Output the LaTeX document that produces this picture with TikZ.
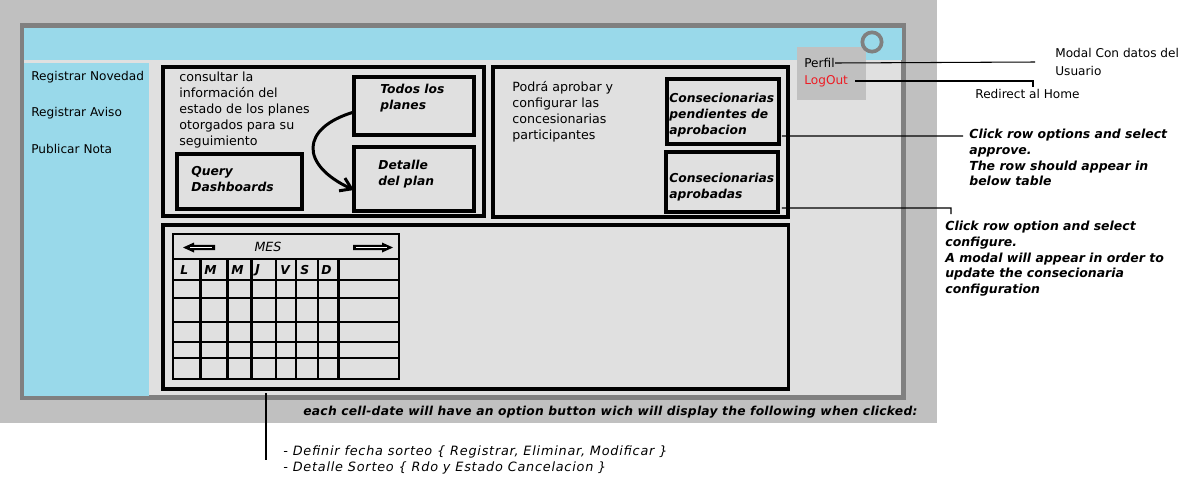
\documentclass[tikz,border=0pt]{standalone}
\usepackage{fontspec}
\setmainfont{DejaVu Sans}
\usetikzlibrary{arrows.meta,calc}
\definecolor{shellgray}{RGB}{192,192,192}
\definecolor{framegray}{RGB}{128,128,128}
\definecolor{panelgray}{RGB}{224,224,224}
\definecolor{barcyan}{RGB}{153,217,234}
\definecolor{logoutred}{RGB}{237,28,36}
\tikzset{
  menutext/.style={anchor=west,inner sep=0,font=\fontsize{6.9}{9}\selectfont},
  bodytext/.style={anchor=north west,inner sep=0,align=left,font=\fontsize{7.2}{9.07}\selectfont},
  boxtext/.style={anchor=north west,inner sep=0,align=left,font=\fontsize{7}{9.07}\selectfont\bfseries\itshape},
  notetext/.style={anchor=north west,inner sep=0,align=left,font=\fontsize{7.1}{8.9}\selectfont\bfseries\itshape},
  panel/.style={draw=black,line width=1.8pt,anchor=north west,inner sep=0,outer sep=0},
  wirebox/.style={draw=black,line width=2.1pt,anchor=north west,inner sep=0,outer sep=0},
  callout/.style={black,line width=0.6pt},
  gridline/.style={black,line width=1.6pt}
}
\begin{document}
\begin{tikzpicture}[x=0.02cm,y=-0.02cm]
\useasboundingbox (0,0) rectangle (1198,498);
% window shell
\fill[shellgray] (0,0) rectangle (937,423);
\filldraw[fill=panelgray,draw=framegray,line width=2.5pt] (22,25.5) rectangle (903.5,397.5);
\fill[barcyan] (24,28) rectangle (901.5,60);
\fill[barcyan] (24,63) rectangle (149,395.5);
% user menu
\fill[shellgray] (797,47) rectangle (866,100);
\draw[framegray,line width=2.1pt] (872,42) circle [radius=5.5pt];
\node[menutext] (novedad) at (31,77) {Registrar Novedad};
\node[menutext] (aviso) at (31,113) {Registrar Aviso};
\node[menutext] (nota) at (31,149) {Publicar Nota};
\node[menutext] (perfil) at (804,63) {Perfil};
\node[menutext,text=logoutred] (logout) at (804,81) {LogOut};
\node[bodytext,font=\fontsize{6.9}{10.2}\selectfont] (modal) at (1055,48) {Modal Con datos del\\Usuario};
\node[menutext] (home) at (975,94) {Redirect al Home};
\coordinate (perfilend) at (1035,62);
\coordinate (logoutend) at (1033,81);
\draw[callout] (perfil.east) -- (perfilend);
\draw[callout] ([xshift=4pt]logout.east) -- (logoutend) -- ++(0,6);
% planes
\node[panel,minimum width=6.42cm,minimum height=2.98cm] (planes) at (163,67) {};
\node[bodytext] (planesinfo) at (179,71.5) {consultar la\\información del\\estado de los planes\\otorgados para su\\seguimiento};
\node[wirebox,minimum width=2.4cm,minimum height=1.16cm] (todos) at (354,77) {};
\node[wirebox,minimum width=2.4cm,minimum height=1.28cm] (detalle) at (354,147) {};
\node[wirebox,minimum width=2.5cm,minimum height=1.1cm] (query) at (177,154) {};
\node[boxtext] (todostext) at (380,84) {Todos los\\planes};
\node[boxtext] (detalletext) at (378,160) {Detalle\\del plan};
\node[boxtext] (querytext) at (191,166) {Query\\Dashboards};
\draw[line width=1.7pt,-{Straight Barb[length=6pt,width=8pt]}] ($(todos.west)+(0,6)$) .. controls (300,128) and (300,165) .. ($(detalle.west)+(0,11)$);
% concesionarias
\node[panel,minimum width=5.9cm,minimum height=3cm] (conces) at (493,67) {};
\node[bodytext] (concesinfo) at (512,81) {Podrá aprobar y\\configurar las\\concesionarias\\participantes};
\node[wirebox,minimum width=2.24cm,minimum height=1.3cm] (pend) at (667,79) {};
\node[wirebox,minimum width=2.24cm,minimum height=1.2cm] (aprob) at (666,152) {};
\node[boxtext] (pendtext) at (669,93) {Consecionarias\\pendientes de\\aprobacion};
\node[boxtext] (aprobtext) at (669,173) {Consecionarias\\aprobadas};
\node[notetext] (approvenote) at (969,129) {Click row options and select\\approve.\\The row should appear in\\below table};
\node[notetext] (confignote) at (945,221) {Click row option and select\\configure.\\A modal will appear in order to\\update the consecionaria\\configuration};
\coordinate (approveend) at (963,136);
\coordinate (configend) at (951,208);
\draw[callout] ($(pend.south east)+(3,-8)$) -- (approveend);
\draw[callout] ($(aprob.south east)+(4,-4)$) -- (configend) -- ++(0,6);
% calendario
\node[panel,minimum width=12.52cm,minimum height=3.28cm] (calpanel) at (163,225) {};
\foreach \y in {234,259,280,298,322,342,358,379}
  \draw[gridline] (172,\y) -- (400,\y);
\foreach \x in {173,399}
  \draw[gridline] (\x,234) -- (\x,379);
\foreach \x in {200.7,227.7,251.7,276,296,318,338.7}
  \draw[gridline] (\x,259) -- (\x,379);
\node[font=\fontsize{7.2}{8}\selectfont\itshape] (mes) at (268,247) {MES};
\fill (183,247.5) -- (194,242.5) -- (194,244.8) -- (215,244.8) -- (215,250.2) -- (194,250.2) -- (194,252.5) -- cycle;
\draw[white,line width=0.7pt] (190,247.5) -- (212,247.5);
\fill (353,244.8) -- (382,244.8) -- (382,242.5) -- (393,247.5) -- (382,252.5) -- (382,250.2) -- (353,250.2) -- cycle;
\draw[white,line width=0.7pt] (356,247.5) -- (387,247.5);
\foreach \d/\x in {L/180,M/204,M/231,J/255,V/280,S/300,D/321}
  \node[anchor=west,inner sep=0,font=\fontsize{7}{8}\selectfont\bfseries\itshape] at (\x,270) {\d};
% notas de la fecha
\node[anchor=west,inner sep=0,font=\fontsize{7}{8}\selectfont\bfseries\itshape\addfontfeatures{LetterSpace=2}] (cellnote) at (303,412) {each cell-date will have an option button wich will display the following when clicked:};
\node[anchor=north west,inner sep=0,align=left,font=\fontsize{7.3}{9.07}\selectfont\itshape\addfontfeatures{LetterSpace=6}] (sorteo) at (283,445) {- Definir fecha sorteo \{ Registrar, Eliminar, Modificar \}\\- Detalle Sorteo \{ Rdo y Estado Cancelacion \}};
\coordinate (celltop) at (266,393);
\draw[callout,line width=0.8pt] (celltop) -- ++(0,67);
\end{tikzpicture}
\end{document}
